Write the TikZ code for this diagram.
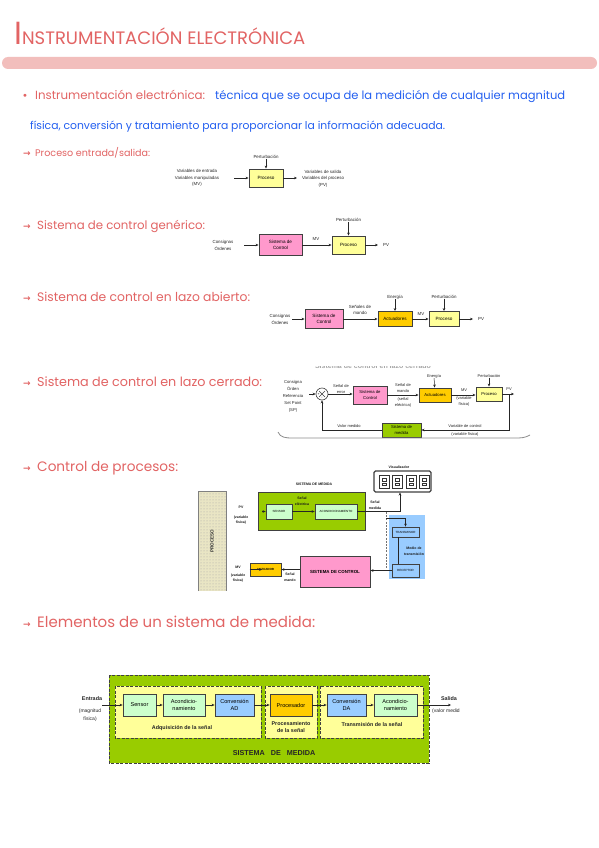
\documentclass[tikz,border=0pt]{standalone}
\usepackage{fontspec}
\usepackage{graphicx}
\setmainfont{Liberation Sans}
\newfontfamily\hand{Poppins}
\newfontfamily\sym{DejaVu Sans}
\usetikzlibrary{arrows.meta,patterns}
\definecolor{hred}{RGB}{226,100,100}
\definecolor{hblue}{RGB}{35,95,240}
\definecolor{barpink}{RGB}{242,190,188}
\definecolor{pyellow}{RGB}{255,255,153}
\definecolor{ppink}{RGB}{255,153,204}
\definecolor{porange}{RGB}{255,204,0}
\definecolor{pgreen}{RGB}{153,204,0}
\definecolor{plgreen}{RGB}{204,255,204}
\definecolor{pblue}{RGB}{153,204,255}
\definecolor{pbeige}{RGB}{233,229,196}
\newcommand\fitw[2]{\resizebox{#1pt}{!}{#2}}
\tikzset{
 lab/.style={font=\fontsize{4.4}{6.6}\selectfont, align=center, inner sep=0, text=black!85},
 blab/.style={font=\bfseries\fontsize{3.5}{5.6}\selectfont, align=center, inner sep=0, text=black!90},
 bx/.style={draw=black!75, line width=0.9pt, inner sep=0, align=center, font=\fontsize{4.6}{6}\selectfont},
 sbx/.style={draw=black!75, line width=0.8pt, inner sep=0, align=center, font=\fontsize{3}{4}\selectfont},
 mbx/.style={draw=black!75, line width=0.8pt, inner sep=0, align=center, font=\fontsize{5.6}{6.4}\selectfont, minimum height=22pt},
 arr/.style={-{Stealth[length=3pt,width=2.6pt]}, line width=0.5pt, draw=black!85},
 ln/.style={line width=0.5pt, draw=black!85},
 hd/.style={anchor=base west, inner sep=0, text=hred, font=\hand},
 hsym/.style={anchor=base west, inner sep=0, text=hred, font=\sym\bfseries\fontsize{9}{9}\selectfont},
 dbx/.style={draw=black!75, line width=0.9pt, dash pattern=on 3pt off 1.5pt},
 dlab/.style={font=\bfseries\fontsize{5.4}{7.4}\selectfont, align=center, inner sep=0, text=black!85},
}
\begin{document}
\begin{tikzpicture}[x=1pt,y=-1pt]
\useasboundingbox[fill=white] (0,0) rectangle (599,848);
% ---------- title ----------
\node[hd] (title) at (14,45) {\fontsize{32}{32}\selectfont I\fontsize{18}{18}\selectfont NSTRUMENTACIÓN ELECTRÓNICA};
\fill[barpink, rounded corners=6pt] (2,57) rectangle (597,69);
% ---------- intro ----------
\node[anchor=base west, inner sep=0, text=hred, font=\sym\fontsize{10}{10}\selectfont] (bul) at (22,100) {•};
\node[hd] (def1) at (35,100) {\fitw{170}{Instrumentación electrónica:}};
\node[hd, text=hblue] (def2) at (215,100) {\fitw{350}{técnica que se ocupa de la medición de cualquier magnitud}};
\node[hd, text=hblue] (def3) at (30,130) {\fitw{415}{física, conversión y tratamiento para proporcionar la información adecuada.}};
% ---------- headings ----------
\node[hsym] (a1) at (23,156) {→};
\node[hd] (h1) at (35,156) {\fitw{115}{Proceso entrada/salida:}};
\node[hsym] (a2) at (23,229) {→};
\node[hd] (h2) at (37,229) {\fitw{168}{Sistema de control genérico:}};
\node[hsym] (a3) at (23,301) {→};
\node[hd] (h3) at (37,301) {\fitw{213}{Sistema de control en lazo abierto:}};
\node[hsym] (a4) at (23,386) {→};
\node[hd] (h4) at (37,386) {\fitw{225}{Sistema de control en lazo cerrado:}};
\node[hsym] (a5) at (23,471) {→};
\node[hd] (h5) at (37,471) {\fitw{141}{Control de procesos:}};
\node[hsym] (a6) at (23,627) {→};
\node[hd] (h6) at (37,627) {\fitw{278}{Elementos de un sistema de medida:}};
% ---------- diagram 1 ----------
\node[bx, fill=pyellow, minimum width=34pt, minimum height=18pt] (pa) at (266,178) {Proceso};
\node[lab] (papert) at (266,157) {Perturbación};
\draw[arr] (papert) -- (pa);
\node[lab] (pain) at (197,178) {Variables de entrada\\Variables manipuladas\\(MV)};
\coordinate (paa) at (234,178);
\draw[arr] (paa) -- (pa);
\node[lab] (paout) at (323,178.5) {Variables de salida\\Variables del proceso\\(PV)};
\coordinate (pab) at (297,178);
\draw[arr] (pa) -- (pab);
% ---------- diagram 2 ----------
\node[bx, fill=ppink, minimum width=43pt, minimum height=21pt] (sb) at (280.5,245) {Sistema de\\Control};
\node[bx, fill=pyellow, minimum width=33pt, minimum height=18pt] (pb) at (348.5,245) {Proceso};
\node[lab] (sbin) at (223,245.5) {Consignas\\Órdenes};
\coordinate (sba) at (244,245);
\draw[arr] (sba) -- (sb);
\node[lab] (mvb) at (316,239) {MV};
\draw[arr] (sb) -- (pb);
\node[lab] (pbpert) at (348.5,220) {Perturbación};
\draw[arr] (pbpert) -- (pb);
\coordinate (pbo) at (378,245);
\draw[arr] (pb) -- (pbo);
\node[lab, anchor=west] (pvb) at (383,245) {PV};
% ---------- diagram 3 ----------
\node[lab] (scin) at (280,319.5) {Consignas\\Órdenes};
\node[bx, fill=ppink, minimum width=38pt, minimum height=19pt] (sc) at (324,319) {Sistema de\\Control};
\node[bx, fill=porange, minimum width=34pt, minimum height=15pt] (ac) at (395,319) {Actuadores};
\node[bx, fill=pyellow, minimum width=30pt, minimum height=15pt] (pc) at (444,319) {Proceso};
\coordinate (sca) at (292,319);
\draw[arr] (sca) -- (sc);
\draw[arr] (sc) -- (ac);
\draw[arr] (ac) -- (pc);
\node[lab] (smc) at (360,310) {Señales de\\mando};
\node[lab] (enc) at (395,297) {Energía};
\draw[arr] (enc) -- (ac);
\node[lab] (ptc) at (444,297) {Perturbación};
\draw[arr] (ptc) -- (pc);
\node[lab] (mvc) at (421,314) {MV};
\coordinate (pco) at (473,319);
\draw[arr] (pc) -- (pco);
\node[lab, anchor=west] (pvc) at (478,319) {PV};
% ---------- diagram 4 ----------
\begin{scope}
\clip (285,366) rectangle (460,372);
\node[text=black!35, font=\bfseries\fontsize{7}{7}\selectfont, inner sep=0] (ghost) at (373,366) {Sistema de control en lazo cerrado};
\end{scope}
\node[lab, font=\fontsize{4.2}{6.8}\selectfont] (spd) at (293,396.5) {Consigna\\Órden\\Referencia\\Set Point\\(SP)};
\node[circle, draw=black!75, line width=0.6pt, fill=white, minimum size=12pt, inner sep=0] (cd) at (322,394) {};
\draw[black!75, line width=0.5pt] ([shift={(-3,-3)}]cd.center) -- ([shift={(3,3)}]cd.center) ([shift={(-3,3)}]cd.center) -- ([shift={(3,-3)}]cd.center);
\node[font=\fontsize{3.5}{3.5}\selectfont, inner sep=0] (plus) at (318.6,394) {+};
\node[font=\fontsize{3.5}{3.5}\selectfont, inner sep=0] (minus) at (322,397.5) {-};
\coordinate (cda) at (309,394);
\draw[arr] (cda) -- (cd);
\node[bx, fill=ppink, minimum width=34pt, minimum height=18pt, font=\fontsize{4.2}{5.4}\selectfont] (sd) at (370,395) {Sistema de\\Control};
\node[bx, fill=porange, minimum width=32pt, minimum height=14pt, font=\fontsize{4.2}{5.4}\selectfont] (ad) at (435,395) {Actuadores};
\node[bx, fill=pyellow, minimum width=26pt, minimum height=14pt, font=\fontsize{4.2}{5.4}\selectfont] (pd) at (489,394) {Proceso};
\node[bx, fill=pgreen, minimum width=39pt, minimum height=14pt, font=\fontsize{4.2}{5.4}\selectfont] (md) at (401.5,430) {Sistema de\\medida};
\draw[arr] (cd) -- (cd -| sd.west);
\draw[arr] (sd) -- (sd -| ad.west);
\draw[arr] (ad) -- (ad -| pd.west);
\node[lab, font=\fontsize{4}{6}\selectfont] (errd) at (341,389) {Señal de\\error};
\node[lab, font=\fontsize{4}{6}\selectfont] (smd) at (403,388) {Señal de\\mando};
\node[lab, font=\fontsize{4}{6}\selectfont] (sed) at (403,402) {(señal\\eléctrica)};
\node[lab, font=\fontsize{4}{6}\selectfont] (end) at (434,376) {Energía};
\draw[arr] (end) -- (ad);
\node[lab, font=\fontsize{4}{6}\selectfont] (ptd) at (489,376) {Perturbación};
\draw[arr] (ptd) -- (pd);
\node[lab, font=\fontsize{4}{6}\selectfont] (mvd) at (464,390) {MV};
\node[lab, font=\fontsize{4}{6}\selectfont] (vfd) at (464,401) {(variable\\física)};
\node[lab, font=\fontsize{4}{6}\selectfont] (pvd) at (509,389) {PV};
\coordinate (pdo) at (514,394);
\draw[arr] (pd) -- (pdo);
\coordinate (fb1) at (509,394);
\draw[arr] (fb1) |- (md);
\draw[arr] (md) -| (cd);
\node[lab, font=\fontsize{4}{6}\selectfont] (vcd) at (465,426) {Variable de control};
\node[lab, font=\fontsize{4}{6}\selectfont] (vfd2) at (465,434) {(variable física)};
\node[lab, font=\fontsize{4}{6}\selectfont] (vmd) at (349,426) {Valor medido};
\draw[black!45, line width=0.8pt] (278,432) to[out=-70,in=180] (292,438) -- (515,438) to[out=0,in=-150] (530,435);
% ---------- diagram 5 ----------
\fill[pbeige] (198,491) rectangle (226,591);
\fill[pattern=dots, pattern color=black!35] (198,491) rectangle (226,591);
\draw[black!50, line width=0.8pt] (198,591) -- (198,491) -- (226,491) -- (226,591);
\node[minimum width=28pt, minimum height=100pt, inner sep=0, rotate=90, font=\bfseries\fontsize{4.6}{5}\selectfont, text=black!80] (proc5) at (212,541) {PROCESO};
\node[blab] (smt) at (314,484) {SISTEMA DE MEDIDA};
\node[draw=black!75, line width=0.9pt, fill=pgreen, minimum width=107pt, minimum height=38pt, inner sep=0] (gm) at (311.5,511) {};
\node[sbx, fill=plgreen, minimum width=26pt, minimum height=15pt] (sen5) at (279,511.5) {SENSOR};
\node[sbx, fill=plgreen, minimum width=42pt, minimum height=15pt] (acd5) at (336,511.5) {ACONDICIONAMIENTO};
\draw[arr] (sen5) -- (acd5);
\node[blab] (see) at (302,501) {Señal\\eléctrica};
\draw[arr] (proc5.south |- sen5) -- (sen5);
\node[blab] (pv5) at (241,507) {PV};
\node[blab] (vf5) at (241,520) {(variable\\física)};
\node[blab] (smd5) at (375,505) {Señal\\medida};
\node[blab] (vis) at (399,467) {Visualizador};
\node[draw=black!75, line width=1.1pt, fill=white, rounded corners=1.5pt, minimum width=57pt, minimum height=21pt, inner sep=0] (disp) at (402.5,481.5) {};
\foreach \dx in {384,397.5,411,424}{
  \draw[black!80, line width=0.7pt] ({\dx-5},475.5) rectangle ({\dx+5},488);
  \draw[black!80, line width=0.5pt] ({\dx-2},478) rectangle ({\dx+2},480.8);
  \draw[black!80, line width=0.5pt] ({\dx-2},482.8) rectangle ({\dx+2},485.5);
}
\draw[arr] (acd5.east) -| ([xshift=-2.5pt]disp.south);
\fill[pblue] (389,515) rectangle (425,579);
\node[sbx, fill=pblue, minimum width=27pt, minimum height=10pt] (trn) at (405.5,532) {TRANSMISOR};
\node[sbx, fill=pblue, minimum width=27pt, minimum height=13pt] (rcp) at (405.5,570.5) {RECEPTOR};
\draw[ln] ([xshift=-7.5pt]trn.south) -- ([xshift=-7.5pt]rcp.north);
\node[blab] (mdt) at (414,551) {Medio de\\transmisión};
\coordinate (dd1) at (386,512);
\coordinate (dd2) at (386,569);
\coordinate (dd3) at (386,518);
\draw[black!55, line width=0.6pt, dash pattern=on 2pt off 1.2pt] (dd1) -- (dd2);
\draw[arr] (dd3) -| (trn.north);
\node[draw=black!75, line width=0.9pt, fill=ppink, minimum width=70pt, minimum height=31pt, inner sep=0, font=\bfseries\fontsize{4.4}{5}\selectfont] (ctl5) at (335,571.5) {SISTEMA DE CONTROL};
\draw[arr] (rcp.west) -- (rcp.west -| ctl5.east);
\node[sbx, fill=porange, minimum width=31pt, minimum height=13pt, font=\bfseries\fontsize{3}{4}\selectfont] (act5) at (265.5,569.5) {ACTUADOR};
\draw[arr] (ctl5.west |- act5) -- (act5);
\draw[arr] (act5) -- (act5 -| proc5.south);
\node[blab] (sm5) at (290,577) {Señal\\mando};
\node[blab] (mv5) at (238,567) {MV};
\node[blab] (vf5b) at (238,578) {(variable\\física)};
% ---------- diagram 6 ----------
\draw[dbx, fill=pgreen] (109,675) rectangle (429,763);
\draw[dbx, fill=pyellow] (115,686) rectangle (261,738);
\draw[dbx, fill=pyellow] (265,686) rectangle (317,738);
\draw[dbx, fill=pyellow] (320,686) rectangle (423,738);
\node[mbx, fill=plgreen, minimum width=33pt] (sen6) at (139.5,705) {Sensor};
\node[mbx, fill=plgreen, minimum width=42pt] (ac6) at (184,705) {Acondicio-\\namiento};
\node[mbx, fill=pblue, minimum width=39pt] (ad6) at (234.5,705) {Conversión\\AD};
\node[mbx, fill=porange, minimum width=42pt] (pr6) at (291,705) {Procesador};
\node[mbx, fill=pblue, minimum width=39pt] (da6) at (346.5,705) {Conversión\\DA};
\node[mbx, fill=plgreen, minimum width=43pt] (ac6b) at (395.5,705) {Acondicio-\\namiento};
\coordinate (in6) at (102,705);
\coordinate (out6) at (451,705);
\draw[arr] (in6) -- (sen6);
\draw[arr] (sen6) -- (ac6);
\draw[arr] (ac6) -- (ad6);
\draw[arr] (ad6) -- (pr6);
\draw[arr] (pr6) -- (da6);
\draw[arr] (da6) -- (ac6b);
\draw[arr] (ac6b) -- (out6);
\node[dlab] (ent) at (92,699) {Entrada};
\node[lab, font=\fontsize{5}{7.4}\selectfont] (mf) at (90,715) {(magnitud\\física)};
\node[dlab] (sal) at (449,699) {Salida};
\node[lab, font=\fontsize{5}{7.4}\selectfont, anchor=west] (vm) at (432,711) {(valor medid};
\node[dlab] (adq) at (182,728) {Adquisición de la señal};
\node[dlab] (prs) at (291,727) {Procesamiento\\de la señal};
\node[dlab] (trs) at (372,725) {Transmisión de la señal};
\node[dlab, font=\bfseries\fontsize{7.2}{8}\selectfont] (smd6) at (274,753) {SISTEMA\ \ \ DE\ \ \ MEDIDA};
\end{tikzpicture}
\end{document}
